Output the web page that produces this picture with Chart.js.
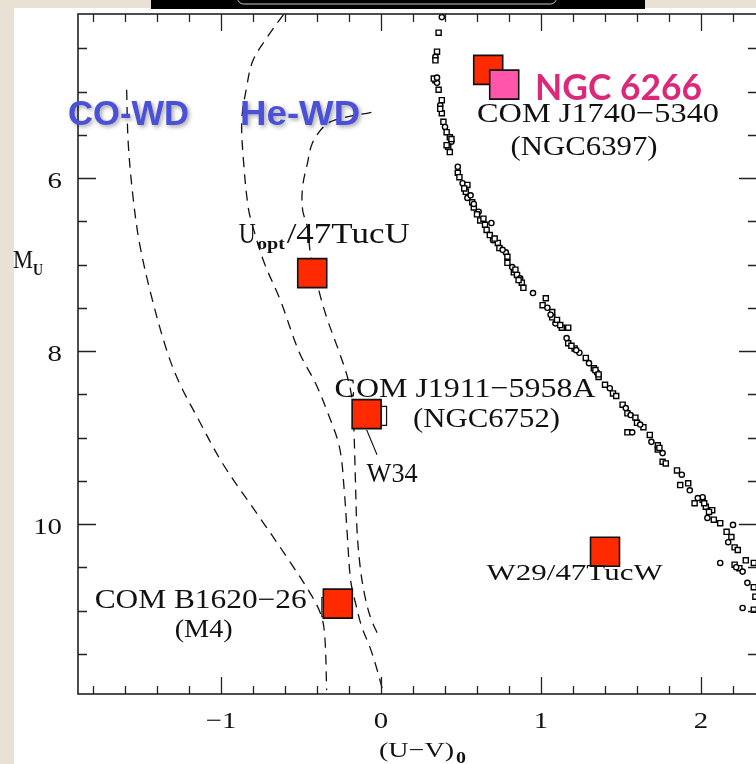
<!DOCTYPE html>
<html>
<head>
<meta charset="utf-8">
<script src="https://cdn.jsdelivr.net/npm/chart.js@4.4.1/dist/chart.umd.min.js"></script>
<style>
  html, body { margin: 0; padding: 0; overflow: hidden; background: #e8e1d4; }
  #wrap { width: 760px; height: 764px; }
</style>
</head>
<body>
<div id="wrap"><canvas id="cmd" width="760" height="764"></canvas></div>
<script>
// Cluster sequence stars, (U-V)0 vs M_U
const seqX = [
  0.38, 0.36, 0.35, 0.34, 0.34, 0.34, 0.35, 0.36, 0.38, 0.37,
  0.38, 0.39, 0.40, 0.41, 0.43, 0.44, 0.42, 0.43, 0.48, 0.48,
  0.49, 0.51, 0.54, 0.53, 0.54, 0.57, 0.58, 0.61, 0.62, 0.65,
  0.69, 0.66, 0.68, 0.70, 0.73, 0.74, 0.78, 0.79, 0.79, 0.82,
  0.83, 0.85, 0.87, 0.88, 0.89, 0.95, 1.03, 1.01, 1.04, 1.07,
  1.07, 1.09, 1.13, 1.17, 1.16, 1.17, 1.21, 1.24, 1.28, 1.33,
  1.35, 1.36, 1.40, 1.43, 1.45, 1.51, 1.53, 1.54, 1.54, 1.56,
  1.59, 1.60, 1.57, 1.64, 1.68, 1.69, 1.73, 1.73, 1.76, 1.76,
  1.85, 1.88, 1.87, 1.92, 1.93, 1.96, 2.01, 2.01, 2.03, 2.07,
  2.04, 2.08, 2.12, 2.20, 2.16, 2.19, 2.17, 2.21, 2.23, 2.12,
  2.21, 2.24, 2.26, 2.28, 2.33, 2.29, 2.33, 2.34, 2.26, 2.33,
  0.33, 0.35, 0.44, 0.41, 0.58, 0.60, 0.71, 0.76, 0.84, 0.86,
  1.06, 1.10, 1.19, 1.22, 1.34, 1.36, 1.62, 1.74, 1.78, 1.98,
  2.02, 2.05, 2.22, 0.37, 0.52, 0.56, 0.64, 1.12, 1.30, 1.47
];
const seqY = [
  4.14, 4.32, 4.54, 4.60, 4.64, 4.87, 4.90, 4.98, 5.10, 5.16,
  5.25, 5.35, 5.41, 5.47, 5.53, 5.58, 5.64, 5.70, 5.87, 5.94,
  5.99, 6.06, 6.08, 6.16, 6.23, 6.28, 6.34, 6.39, 6.49, 6.54,
  6.52, 6.60, 6.66, 6.72, 6.75, 6.81, 6.86, 6.91, 6.98, 7.03,
  7.09, 7.12, 7.16, 7.21, 7.27, 7.33, 7.39, 7.47, 7.50, 7.55,
  7.61, 7.68, 7.73, 7.73, 7.85, 7.91, 7.97, 8.02, 8.08, 8.20,
  8.25, 8.30, 8.39, 8.43, 8.49, 8.62, 8.66, 8.72, 8.94, 8.74,
  8.77, 8.83, 8.94, 8.88, 8.97, 9.05, 9.09, 9.14, 9.18, 9.28,
  9.38, 9.43, 9.55, 9.53, 9.61, 9.76, 9.72, 9.69, 9.80, 9.84,
  9.93, 9.95, 9.99, 10.01, 10.09, 10.15, 10.21, 10.27, 10.30, 10.45,
  10.47, 10.51, 10.55, 10.42, 10.45, 10.68, 10.73, 10.84, 10.97, 10.99,
  4.85, 4.84, 5.55, 5.62, 6.30, 6.42, 6.70, 6.83, 7.06, 7.18,
  7.58, 7.64, 7.94, 7.99, 8.22, 8.27, 8.85, 9.12, 9.30, 9.70,
  9.76, 9.86, 10.50, 5.20, 6.12, 6.20, 6.47, 7.70, 8.14, 8.52
];

// White dwarf cooling tracks (dashed)
const coTrackX = [-1.59, -1.58, -1.55, -1.51, -1.44, -1.34, -1.26, -1.15, -0.99, -0.76, -0.59, -0.43, -0.37, -0.35, -0.34];
const coTrackY = [4.98, 5.60, 6.22, 6.75, 7.33, 7.99, 8.37, 8.76, 9.30, 9.92, 10.38, 10.84, 11.08, 11.34, 11.92];

const heTrack1X = [-0.61, -0.71, -0.80, -0.84, -0.87, -0.86, -0.83, -0.80, -0.73, -0.63, -0.51, -0.41, -0.34, -0.26, -0.23, -0.21, -0.19, -0.16, -0.12, -0.07, -0.03, 0.01];
const heTrack1Y = [4.11, 4.37, 4.64, 4.95, 5.33, 5.79, 6.34, 6.57, 6.98, 7.41, 8.02, 8.37, 8.68, 9.11, 9.61, 10.15, 10.65, 10.91, 11.19, 11.42, 11.65, 11.92];

const heTrack2X = [-0.06, -0.29, -0.36, -0.43, -0.46, -0.49, -0.49, -0.46, -0.44, -0.39, -0.34, -0.26, -0.21, -0.18, -0.17, -0.16, -0.15, -0.13, -0.10, -0.06, -0.01];
const heTrack2Y = [5.24, 5.33, 5.41, 5.60, 5.83, 6.10, 6.37, 6.57, 6.89, 7.29, 7.61, 8.02, 8.30, 8.57, 8.88, 9.49, 10.07, 10.50, 10.84, 11.11, 11.31];

// MSP companions
const mspNames = ["COM J1740-5340", "NGC 6266", "U_opt/47TucU", "COM J1911-5958A", "W29/47TucW", "COM B1620-26"];
const mspX = [0.67, 0.77, -0.43, -0.09, 1.40, -0.27];
const mspY = [4.75, 4.92, 7.10, 8.73, 10.32, 10.92];

// open squares partly hidden behind two companions
const openX = [-0.025, -0.31];
const openY = [8.75, 10.96];

// pointer from J1911 to W34 label
const w34LineX = [-0.09, -0.025];
const w34LineY = [8.91, 9.20];

const xTickLabels = [-1, 0, 1, 2];
const yTickLabels = [6, 8, 10];

const toPts = (xs, ys) => xs.map((x, i) => ({ x: x, y: ys[i] }));

const SERIF = '"Liberation Serif", "DejaVu Serif", serif';

function drawText(ctx, s, x, y, o) {
  ctx.save();
  ctx.font = o.font;
  ctx.fillStyle = o.color || "#111";
  ctx.textBaseline = "alphabetic";
  ctx.textAlign = "left";
  const w0 = ctx.measureText(s).width;
  const sx = o.width ? o.width / w0 : (o.sx || 1);
  const w = w0 * sx;
  let left = x;
  if (o.align === "center") left = x - w / 2;
  else if (o.align === "right") left = x - w;
  if (o.shadow) {
    ctx.shadowColor = "rgba(0,0,0,0.35)";
    ctx.shadowBlur = 4;
    ctx.shadowOffsetX = 2;
    ctx.shadowOffsetY = 2;
  }
  ctx.translate(left, y);
  ctx.scale(sx, 1);
  ctx.fillText(s, 0, 0);
  ctx.restore();
}

// labels: x = left edge, y = baseline, in data units
const labels = [
  { t: "COM J1740\u22125340", x: 0.60, y: 5.35, font: "28px " + SERIF, w: 242 },
  { t: "(NGC6397)", x: 0.81, y: 5.73, font: "27px " + SERIF, w: 147 },
  { t: "COM J1911\u22125958A", x: -0.29, y: 8.53, font: "28px " + SERIF, w: 261 },
  { t: "(NGC6752)", x: 0.20, y: 8.88, font: "28px " + SERIF, w: 147 },
  { t: "W34", x: -0.09, y: 9.51, font: "28px " + SERIF, w: 51 },
  { t: "W29/47TucW", x: 0.66, y: 10.65, font: "23px " + SERIF, w: 176 },
  { t: "COM B1620\u221226", x: -1.79, y: 10.97, font: "27px " + SERIF, w: 212 },
  { t: "(M4)", x: -1.29, y: 11.31, font: "26px " + SERIF, w: 58 },
  { t: "U", x: -0.89, y: 6.75, font: "30px " + SERIF, w: 17 },
  { t: "opt", x: -0.775, y: 6.82, font: "bold 17px " + SERIF, w: 28 },
  { t: "/47TucU", x: -0.59, y: 6.75, font: "30px " + SERIF, w: 123 },
  { t: "CO-WD", x: -1.956, y: 5.39, font: "bold 35px 'Liberation Sans', Arial, sans-serif", w: 121, color: "#4a50d8", shadow: true },
  { t: "He-WD", x: -0.881, y: 5.39, font: "bold 35px 'Liberation Sans', Arial, sans-serif", w: 120, color: "#4a50d8", shadow: true },
  { t: "NGC 6266", x: 0.9625, y: 5.10, font: "bold 36px Lato, 'DejaVu Sans', sans-serif", w: 167, color: "#dc2878" }
];

const frame = {
  id: "frame",
  beforeDraw(chart) {
    const ctx = chart.ctx;
    ctx.save();
    ctx.fillStyle = "#e8e1d4";
    ctx.fillRect(0, 0, chart.width, chart.height);
    ctx.fillStyle = "#ffffff";
    ctx.fillRect(14, 8, chart.width - 14, chart.height - 8);
    ctx.fillStyle = "#000000";
    ctx.fillRect(151, 0, 494, 9);
    ctx.strokeStyle = "#cccccc";
    ctx.lineWidth = 1;
    ctx.beginPath();
    ctx.roundRect(237.5, -8, 319, 12, 6);
    ctx.stroke();
    ctx.restore();
  },
  afterDatasetsDraw(chart) {
    const ctx = chart.ctx;
    const ca = chart.chartArea;
    const xs = chart.scales.x;
    const ys = chart.scales.y;
    ctx.save();
    ctx.strokeStyle = "#222";
    ctx.lineWidth = 1.6;
    ctx.strokeRect(ca.left, ca.top, ca.right - ca.left, ca.bottom - ca.top);

    ctx.lineWidth = 1.3;
    ctx.beginPath();
    for (let i = -9; i <= 11; i++) {
      const v = i / 5;
      const major = i % 5 === 0;
      const len = major ? 17 : 8;
      const px = Math.round(xs.getPixelForValue(v)) + 0.5;
      ctx.moveTo(px, ca.bottom); ctx.lineTo(px, ca.bottom - len);
      ctx.moveTo(px, ca.top); ctx.lineTo(px, ca.top + len);
    }
    for (let i = 9; i <= 23; i++) {
      const v = i / 2;
      const major = i % 4 === 0;
      const len = major ? 18 : 9;
      const py = Math.round(ys.getPixelForValue(v)) + 0.5;
      ctx.moveTo(ca.left, py); ctx.lineTo(ca.left + len, py);
      ctx.moveTo(ca.right, py); ctx.lineTo(ca.right - len, py);
    }
    ctx.stroke();
    ctx.restore();

    xTickLabels.forEach(v => {
      const s = v < 0 ? "\u2212" + Math.abs(v) : String(v);
      drawText(ctx, s, xs.getPixelForValue(v), ca.bottom + 34, { font: "24px " + SERIF, sx: 1.2, align: "center" });
    });
    yTickLabels.forEach(v => {
      drawText(ctx, String(v), ca.left - 16, ys.getPixelForValue(v) + 10, { font: "24px " + SERIF, sx: 1.2, align: "right" });
    });

    // axis titles
    drawText(ctx, "M", ca.left - 65, ys.getPixelForValue(7.04), { font: "26px " + SERIF, width: 20 });
    drawText(ctx, "U", ca.left - 45, ys.getPixelForValue(7.12), { font: "bold 17px " + SERIF, width: 10 });
    const x0 = xs.getPixelForValue(0);
    drawText(ctx, "(U\u2212V)", x0 - 2, 757, { font: "22px " + SERIF, width: 75 });
    drawText(ctx, "0", x0 + 75, 763, { font: "bold 16px " + SERIF, width: 10 });

    labels.forEach(l => {
      drawText(ctx, l.t, xs.getPixelForValue(l.x), ys.getPixelForValue(l.y), {
        font: l.font, width: l.w, color: l.color, shadow: l.shadow
      });
    });
  }
};

const trackStyle = {
  showLine: true,
  pointRadius: 0,
  borderColor: "#111",
  borderWidth: 1.3,
  borderDash: [10, 7],
  tension: 0.35,
  fill: false
};

const config = {
  type: "scatter",
  data: {
    datasets: [
      {
        label: "MSP companions",
        data: toPts(mspX, mspY),
        pointStyle: "rect",
        pointRadius: 20.5,
        backgroundColor: mspNames.map(n => (n === "NGC 6266" ? "#ff55aa" : "#ff2a00")),
        borderColor: "#111",
        borderWidth: 1.6
      },
      {
        label: "open",
        data: toPts(openX, openY),
        pointStyle: "rect",
        pointRadius: 13.5,
        backgroundColor: "rgba(0,0,0,0)",
        borderColor: "#111",
        borderWidth: 1.2
      },
      {
        label: "W34 pointer",
        data: toPts(w34LineX, w34LineY),
        showLine: true,
        pointRadius: 0,
        borderColor: "#111",
        borderWidth: 1.1
      },
      Object.assign({ label: "CO-WD", data: toPts(coTrackX, coTrackY) }, trackStyle),
      Object.assign({ label: "He-WD 1", data: toPts(heTrack1X, heTrack1Y) }, trackStyle),
      Object.assign({ label: "He-WD 2", data: toPts(heTrack2X, heTrack2Y) }, trackStyle),
      {
        label: "Cluster stars",
        data: toPts(seqX, seqY),
        pointStyle: c => (c.dataIndex % 3 === 0 ? "circle" : "rect"),
        pointRadius: c => (c.dataIndex % 3 === 0 ? 2.6 : 3.6),
        backgroundColor: "#ffffff",
        borderColor: "#000",
        borderWidth: 1.4
      }
    ]
  },
  options: {
    responsive: false,
    animation: false,
    events: [],
    layout: { autoPadding: false, padding: { left: 78, top: 14, right: 3, bottom: 70 } },
    plugins: { legend: { display: false }, tooltip: { enabled: false } },
    scales: {
      x: { type: "linear", min: -1.894, max: 2.35, display: false },
      y: { type: "linear", min: 4.104, max: 11.965, reverse: true, display: false }
    }
  },
  plugins: [frame]
};

const cmdChart = new Chart(document.getElementById("cmd"), config);
</script>
</body>
</html>
